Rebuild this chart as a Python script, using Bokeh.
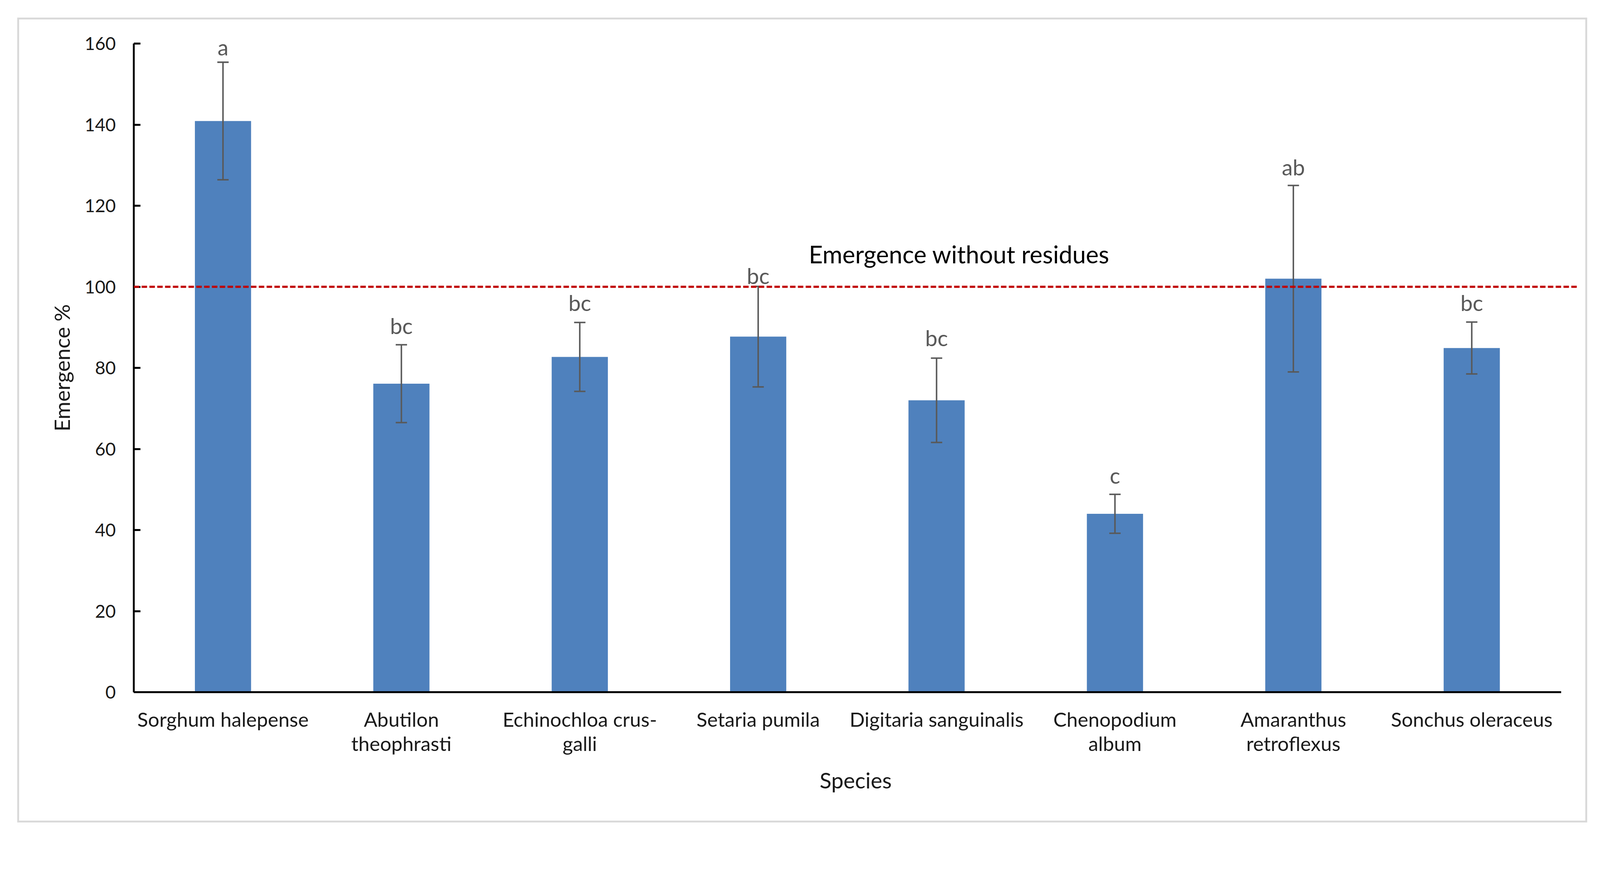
from bokeh.plotting import figure
from bokeh.models import (Range1d, FixedTicker, Whisker, TeeHead, ColumnDataSource,
                          Span, Label)
from bokeh.embed import file_html
from bokeh.resources import INLINE
from bokeh.core.properties import value

# ---- data ----
species = ["Sorghum halepense", "Abutilon\ntheophrasti", "Echinochloa crus-\ngalli",
           "Setaria pumila", "Digitaria sanguinalis", "Chenopodium\nalbum",
           "Amaranthus\nretroflexus", "Sonchus oleraceus"]
emergence = [140.9, 76.1, 82.7, 87.7, 72.0, 44.0, 102.0, 84.9]
std_error = [14.5, 9.6, 8.5, 12.4, 10.4, 4.8, 23.0, 6.4]
letters = ["a", "bc", "bc", "bc", "bc", "c", "ab", "bc"]
reference_level = 100
reference_text = "Emergence without residues"
y_ticks = [0, 20, 40, 60, 80, 100, 120, 140, 160]

# ---- layout constants ----
W, H = 4080, 2121
FONT = "Lato"
Y_MIN, Y_MAX = 0, 160
letter_gap_px = [40, 51, 53, 29, 54, 51, 49, 52]   # screen gap cap -> letter baseline
PX_PER_UNIT = 10.825

xs = [i + 1 for i in range(len(species))]
upper = [m + e for m, e in zip(emergence, std_error)]
lower = [m - e for m, e in zip(emergence, std_error)]
src = ColumnDataSource(dict(
    x=xs,
    top=emergence,
    upper=upper,
    lower=lower,
    letter=letters,
    letter_y=[u + g / PX_PER_UNIT for u, g in zip(upper, letter_gap_px)],
))

p = figure(width=W, height=H, x_range=Range1d(0.5, 8.593), y_range=Range1d(Y_MIN, Y_MAX),
           output_backend="svg", toolbar_location=None,
           min_border_left=342, min_border_right=42, min_border_top=111, min_border_bottom=350)
p.background_fill_color = "white"
p.border_fill_color = None
p.outline_line_color = None
p.xgrid.visible = False
p.ygrid.visible = False
# light grey chart-area border drawn behind the (transparent) canvas border area
p.styles = {"box-shadow": "inset 13.65px 14.55px 0 30.45px #FFFFFF, "
                          "inset 13.65px 14.55px 0 35.25px #D9D9D9"}

# bars
p.vbar(x="x", top="top", width=0.315, source=src, fill_color="#4F81BD", line_color=None)

# error bars
p.add_layout(Whisker(source=src, base="x", upper="upper", lower="lower",
                     line_color="#595959", line_width=3.8, level="annotation",
                     upper_head=TeeHead(size=29, line_color="#595959", line_width=3.8),
                     lower_head=TeeHead(size=29, line_color="#595959", line_width=3.8)))

# reference line
p.add_layout(Span(location=reference_level, dimension="width", line_color="#C00000",
                  line_width=5.5, line_dash="14 6", level="annotation"))

# significance letters
p.text(x="x", y="letter_y", text="letter", source=src,
       text_align="center", text_baseline="alphabetic",
       text_font=value(FONT), text_font_size="56px", text_color="#595959")

# reference label
p.add_layout(Label(x=5.127, y=108.1, text=reference_text, text_align="center",
                   text_baseline="alphabetic", text_font=FONT, text_font_size="62px",
                   text_color="#000000"))

# x axis
xa = p.xaxis[0]
xa.ticker = FixedTicker(ticks=xs)
xa.major_label_overrides = {x: s for x, s in zip(xs, species)}
xa.bounds = (0.5, 8.5)
xa.major_tick_line_color = None
xa.minor_tick_line_color = None
xa.axis_line_color = "black"
xa.axis_line_width = 4.8
xa.major_label_standoff = 32
xa.major_label_text_font = FONT
xa.major_label_text_font_size = "51px"
xa.major_label_text_line_height = 1.03
xa.major_label_text_color = "#1a1a1a"
xa.axis_label = "Species"
xa.axis_label_standoff = 27
xa.axis_label_text_font = FONT
xa.axis_label_text_font_size = "56px"
xa.axis_label_text_font_style = "normal"
xa.axis_label_text_color = "#1a1a1a"

# y axis
ya = p.yaxis[0]
ya.ticker = FixedTicker(ticks=y_ticks)
ya.minor_tick_line_color = None
ya.major_tick_in = 17
ya.major_tick_out = 0
ya.major_tick_line_width = 4.8
ya.major_tick_line_color = "black"
ya.axis_line_color = "black"
ya.axis_line_width = 4.8
ya.major_label_standoff = 46
ya.major_label_text_font = FONT
ya.major_label_text_font_size = "46px"
ya.major_label_text_color = "#1a1a1a"
ya.axis_label = "Emergence %"
ya.axis_label_standoff = 22
ya.axis_label_text_font = FONT
ya.axis_label_text_font_size = "55px"
ya.axis_label_text_font_style = "normal"
ya.axis_label_text_color = "#1a1a1a"

open("out.html", "w").write(file_html(p, INLINE))
